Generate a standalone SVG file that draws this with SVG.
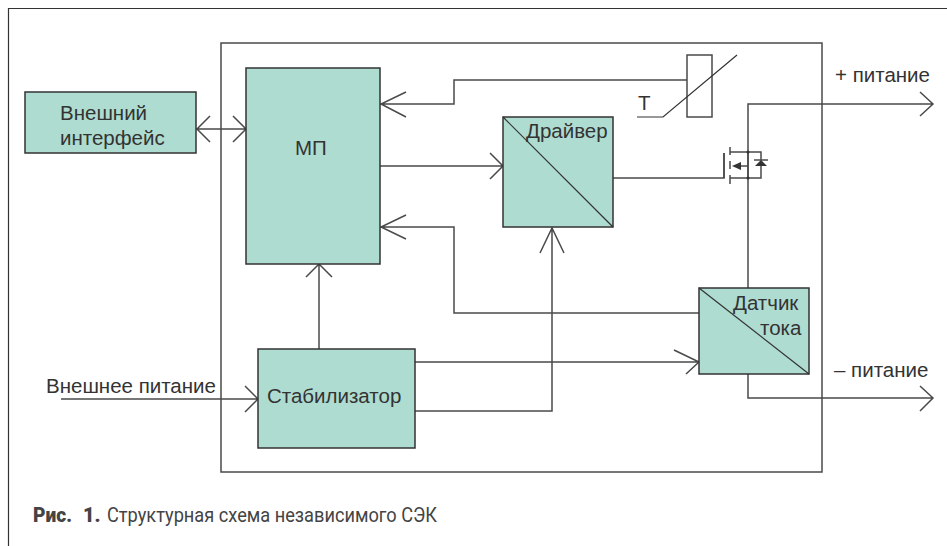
<svg xmlns="http://www.w3.org/2000/svg" width="947" height="546" viewBox="0 0 947 546">
<style>
.b{fill:#aedcd0;stroke:#333;stroke-width:1.5}
.l{fill:none;stroke:#4a4a4a;stroke-width:1.5}
.t{fill:none;stroke:#333;stroke-width:1.2}
text{font-family:"Liberation Sans",Arial,sans-serif;font-size:20.500px;fill:#333}
.c{font-size:20px;fill:#444;font-family:"Roboto","Liberation Sans",sans-serif}
.cb{font-weight:900}
</style>
<rect width="947" height="546" fill="#fff"/>
<path class="t" d="M8.500 546V8.500H947"/>
<rect class="l" x="221" y="43" width="601" height="429"/>
<g id="connectors">
<path class="l" d="M196 129H246M210 116L197 129L210 142M233 116L246 129L233 142"/>
<path class="l" d="M380 104H454V80H687M406 92L381 104L406 117"/>
<path class="l" d="M380 166H503M490 153L503 166L490 179"/>
<path class="l" d="M699 313H454V227H381M406 215L381 227L406 239"/>
<path class="l" d="M319 349V264M306 277L319 264L332 277"/>
<path class="l" d="M415 362H699M674 350L699 362L686 374"/>
<path class="l" d="M415 411H552V228M540 253L552 228L564 253"/>
<path class="l" d="M61 399H258M245 386L258 399L245 412"/>
<path class="l" d="M748 288V194M748 178V104H933M920 92L933 104L920 116"/>
<path class="l" d="M748 374V398H933M920 386L933 398L920 411"/>
<path class="l" d="M613 178H724V153"/>
</g>
<g id="node-interface"><rect class="b" x="25" y="92" width="171" height="61"/><text x="60" y="120">Внешний</text><text x="60" y="145">интерфейс</text></g>
<g id="node-mp"><rect class="b" x="246" y="68" width="134" height="196"/><text x="295" y="155">МП</text></g>
<g id="node-driver"><rect class="b" x="503" y="117" width="110" height="110"/><path class="t" d="M503 117L613 227"/><text x="526" y="138">Драйвер</text></g>
<g id="node-sensor"><rect class="b" x="699" y="288" width="110" height="86"/><path class="t" d="M699 288L809 374"/><text x="733" y="310">Датчик</text><text x="760" y="335">тока</text></g>
<g id="node-stabilizer"><rect class="b" x="258" y="349" width="157" height="99"/><text x="267" y="403">Стабилизатор</text></g>
<g id="node-thermistor"><rect class="l" x="687" y="55" width="25" height="62" fill="#fff"/><path class="t" d="M637 117H663L737 55"/><text x="638" y="110">Т</text></g>
<g id="node-mosfet">
<path class="l" d="M724 153V178"/>
<path class="l" d="M730 147V155M730 161V169M730 175V184"/>
<path class="l" d="M730 152H761V178H730M748 152V194M735 166H748V178"/>
<path fill="#333" d="M732 166L741 162V170Z"/>
<path fill="#333" d="M761 160L755 166H767Z"/>
<path class="l" d="M754 160H768"/>
<circle cx="748" cy="152" r="1.500" fill="#333"/><circle cx="748" cy="178" r="1.500" fill="#333"/>
</g>
<g id="labels"><text x="835" y="82">+ питание</text><text x="834" y="377">– питание</text><text x="46" y="393">Внешнее питание</text></g>
<g id="caption"><text class="c cb" x="33" y="522" textLength="39" lengthAdjust="spacingAndGlyphs">Рис.</text><text class="c cb" x="83" y="522">1.</text><text class="c" x="107" y="522" textLength="330" lengthAdjust="spacingAndGlyphs">Структурная схема независимого СЭК</text></g>
</svg>
